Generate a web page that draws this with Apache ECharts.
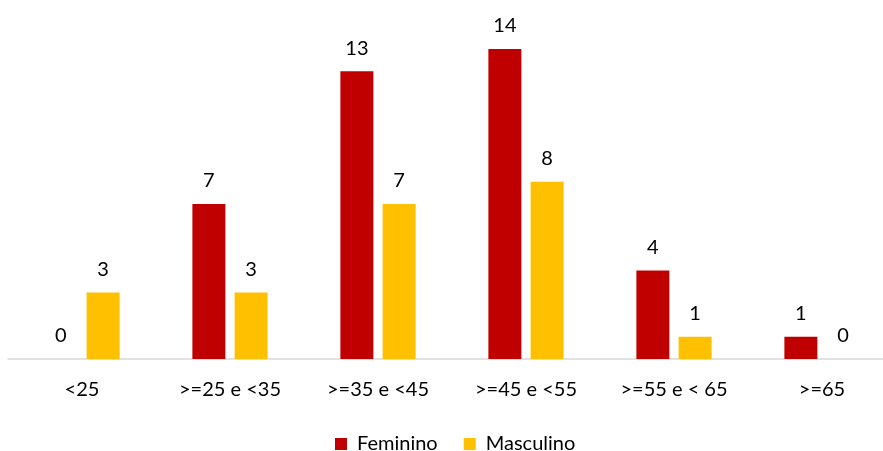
<!DOCTYPE html>
<html>
<head>
<meta charset="utf-8">
<script src="https://cdn.jsdelivr.net/npm/echarts@6/dist/echarts.min.js"></script>
<style>
  html, body { margin: 0; padding: 0; background: #fff; overflow: hidden; }
  #chart { width: 896px; height: 451px; }
</style>
</head>
<body>
<div id="chart"></div>
<script>
// Age bands and counts per sex
const categories = ['<25', '>=25 e <35', '>=35 e <45', '>=45 e <55', '>=55 e < 65', '>=65'];
const feminino = [0, 7, 13, 14, 4, 1];
const masculino = [3, 3, 7, 8, 1, 0];

const FONT = 'Lato, "Open Sans", sans-serif';

const chart = echarts.init(document.getElementById('chart'), null, { renderer: 'canvas' });

const labelStyle = {
  show: true,
  position: 'top',
  distance: 13,
  color: '#000',
  fontSize: 20,
  fontFamily: FONT
};

chart.setOption({
  animation: false,
  backgroundColor: '#fff',
  grid: { left: 8, top: 49, right: 0, bottom: 92, containLabel: false },
  legend: {
    top: 429,
    left: 330,
    itemWidth: 12,
    itemHeight: 12,
    itemGap: 26,
    icon: 'rect',
    textStyle: { fontSize: 20, fontFamily: FONT, color: '#000', padding: [0, 0, 0, 5] },
    data: ['Feminino', 'Masculino']
  },
  xAxis: {
    type: 'category',
    data: categories,
    axisLine: { lineStyle: { color: '#d9d9d9', width: 1.5 } },
    axisTick: { show: false },
    axisLabel: { color: '#000', fontSize: 20, fontFamily: FONT, margin: 21 }
  },
  yAxis: {
    type: 'value',
    min: 0,
    max: 14,
    show: false,
    splitLine: { show: false }
  },
  series: [
    {
      name: 'Feminino',
      type: 'bar',
      data: feminino,
      barWidth: 33,
      barGap: '28%',
      itemStyle: { color: '#C00000' },
      label: labelStyle
    },
    {
      name: 'Masculino',
      type: 'bar',
      data: masculino,
      barWidth: 33,
      itemStyle: { color: '#FFC000' },
      label: labelStyle
    }
  ]
});
</script>
</body>
</html>
